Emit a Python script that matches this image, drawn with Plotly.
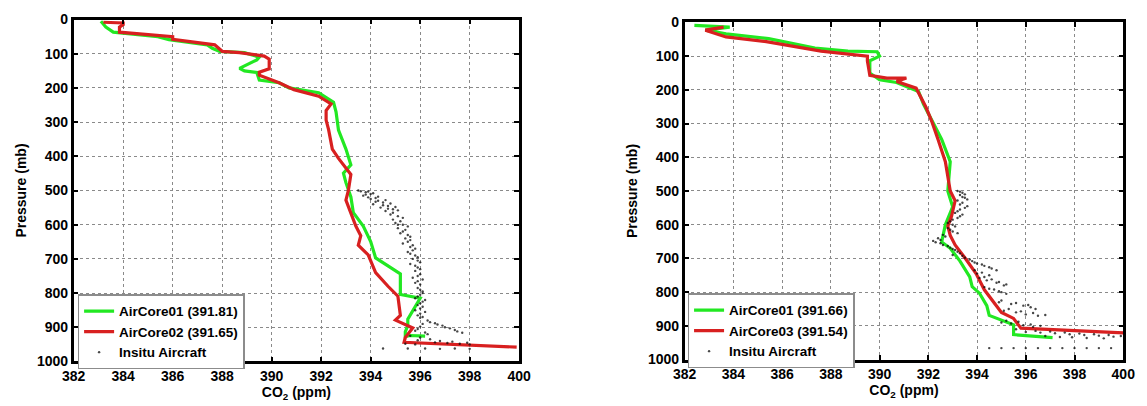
import plotly.graph_objects as go

# ---------------- Left panel data ----------------
L_ac01_co2 = [383.1, 383.3, 383.6, 385.4, 385.85, 387.4, 387.6, 387.9, 388.9, 389.5, 389.4, 388.7, 388.9, 389.4,
              389.5, 390.3, 390.7, 391.9, 392.5, 392.6, 392.7, 393.0, 393.2, 392.9, 393.0, 393.2, 393.3, 393.7,
              394.0, 394.2, 395.2, 395.2, 396.0, 395.8, 395.5, 395.5, 395.4, 395.4, 395.6, 396.2]
L_ac01_p = [5, 22, 37, 50, 59, 74, 84, 93, 97, 110, 118, 143, 150, 155,
            177, 185, 200, 214, 242, 270, 323, 379, 425, 449, 477, 519, 565, 604,
            649, 697, 744, 804, 815, 838, 876, 895, 913, 927, 924, 926]

L_ac02_co2 = [383.2, 384.0, 384.0, 383.85, 383.85, 386.0, 386.0, 387.7, 388.0, 388.7, 389.7, 389.9, 389.9, 389.5,
              389.5, 390.3, 390.9, 391.9, 392.4, 392.2, 392.2, 392.3, 392.45, 392.7, 393.2, 393.1, 393.0, 393.2,
              393.4, 393.6, 393.5, 393.9, 394.2, 394.7, 395.1, 395.2, 395.0, 395.7, 395.4, 395.35, 399.9]
L_ac02_p = [8, 10, 15, 22, 37, 50, 58, 74, 93, 97, 107, 116, 144, 154,
            163, 185, 205, 224, 247, 266, 294, 322, 379, 406, 453, 500, 528, 565,
            604, 632, 660, 688, 740, 780, 809, 865, 879, 902, 930, 944, 958]

L_insitu_co2 = [393.6, 393.8, 394.0, 393.7, 393.9, 394.2, 394.3, 394.5, 394.1, 394.7, 394.4, 394.9, 394.6,
                394.8, 395.1, 394.9, 395.2, 395.0, 395.3, 395.1, 395.4, 395.2, 395.5, 395.4, 395.6,
                395.3, 395.6, 395.7, 395.5, 395.8, 395.7, 395.9, 395.6, 395.9, 395.8, 396.0, 395.7, 395.9, 396.0,
                395.9, 396.1, 396.0, 395.8, 396.1, 395.9, 396.0, 396.2, 395.9,
                396.0, 396.3, 396.6, 396.9, 397.2, 397.5, 396.1, 395.9, 396.2,
                395.6, 396.0, 396.4, 396.8, 397.3, 397.9, 395.4, 395.8,
                396.2, 396.8, 397.4, 398.0, 394.5, 395.5,
                393.5, 393.9, 394.1, 393.8, 394.3, 394.0, 394.6, 394.2, 394.8, 394.5, 395.0, 394.7, 395.1,
                394.9, 395.3, 395.1, 395.5, 395.3, 395.6, 395.5, 395.7, 395.8, 395.6, 395.9, 396.0, 395.8,
                396.0, 395.9, 396.1, 395.8, 396.0, 396.1, 395.9, 396.2, 396.0, 396.1, 395.8, 396.0, 396.1,
                396.4, 396.7, 397.0, 397.4, 397.7, 396.0, 395.8, 396.3, 395.9, 396.6, 397.1, 397.6, 398.0]
L_insitu_p = [502, 505, 510, 515, 520, 522, 530, 535, 540, 545, 550, 555, 560,
              570, 575, 585, 590, 595, 600, 610, 615, 625, 630, 640, 645,
              655, 665, 675, 680, 690, 700, 705, 715, 725, 735, 745, 755, 765, 775,
              785, 795, 805, 815, 825, 835, 845, 855, 865,
              872, 880, 888, 895, 903, 912, 890, 905, 915,
              925, 930, 935, 940, 942, 945, 948, 950,
              962, 963, 962, 963, 962, 962,
              500, 503, 508, 512, 518, 525, 528, 533, 538, 543, 548, 553, 558,
              565, 580, 600, 605, 620, 635, 650, 660, 670, 685, 695, 710, 720,
              730, 750, 760, 770, 790, 800, 810, 820, 830, 840, 850, 860, 870,
              885, 892, 900, 908, 916, 898, 910, 920, 938, 944, 946, 948, 950]

# ---------------- Right panel data ----------------
R_ac01_co2 = [382.4, 383.85, 382.85, 383.7, 385.45, 387.35, 388.7, 389.9, 390.0, 389.6, 389.6, 390.0, 390.7,
              391.6, 391.8, 392.2, 392.55, 392.9, 392.8, 393.0, 392.7, 392.55, 392.9, 393.3, 393.7, 393.8,
              394.1, 394.4, 394.5, 395.5, 395.5, 397.1]
R_ac01_p = [9, 14, 23, 34, 48, 76, 85, 87, 100, 114, 150, 170, 178,
            205, 242, 299, 347, 413, 500, 547, 600, 651, 670, 708, 755, 784,
            803, 840, 869, 897, 926, 935]

R_ac03_co2 = [383.6, 382.85, 383.7, 385.35, 387.6, 389.5, 389.5, 389.6, 390.3, 391.1, 390.7, 391.5, 391.9,
              392.15, 392.4, 392.7, 392.9, 393.1, 392.95, 392.8, 392.9, 393.1, 393.5, 393.96, 394.3, 394.7,
              395.0, 395.5, 395.8, 400.0]
R_ac03_p = [14, 23, 43, 57, 85, 100, 114, 157, 165, 165, 175, 195, 251,
            295, 347, 413, 500, 529, 576, 604, 632, 660, 698, 745, 793, 831,
            860, 878, 907, 921]

R_insitu_co2 = [393.2, 393.4, 393.3, 393.5, 393.2, 393.4, 393.6, 393.3, 393.1, 393.3,
                393.0, 392.8, 393.1, 392.9, 393.2, 392.7, 392.5,
                392.3, 392.6, 392.9, 393.1, 393.3, 393.0, 393.5,
                393.8, 394.0, 394.3, 394.6, 393.9, 394.2, 394.5,
                394.1, 394.4, 394.8, 395.1, 394.3, 394.7, 395.0,
                394.9, 395.4, 395.9, 396.2, 395.1, 395.6, 396.0, 396.5,
                395.0, 395.4, 395.9, 396.3, 395.6,
                396.0, 396.6, 397.2, 397.8, 398.4, 399.0, 399.6, 396.8, 397.9,
                394.5, 395.0, 395.5, 396.0, 396.5, 397.0, 397.5, 398.0, 398.5, 399.0, 399.5,
                393.3, 393.5, 393.4, 393.6, 393.3, 393.5, 393.2, 393.4, 393.2, 392.9, 393.0, 392.8,
                393.0, 392.6, 392.4, 392.2, 392.5, 392.8, 393.0, 393.2, 393.4, 393.7, 393.9, 394.2,
                394.5, 394.8, 394.0, 394.3, 394.6, 394.9, 395.2, 394.5, 394.9, 395.2, 395.0, 395.6,
                396.1, 396.4, 395.3, 395.8, 396.3, 396.8, 395.2, 395.7, 396.2, 396.6, 396.4, 397.0,
                397.6, 398.2, 398.8, 399.4, 399.9, 397.4, 398.5, 399.2]
R_insitu_p = [500, 505, 512, 520, 528, 535, 545, 555, 565, 575,
              585, 595, 605, 615, 625, 635, 645,
              652, 660, 668, 675, 685, 690, 698,
              708, 715, 722, 730, 735, 742, 750,
              758, 765, 772, 780, 785, 792, 800,
              830, 835, 840, 845, 855, 860, 866, 870,
              890, 893, 898, 903, 910,
              918, 920, 922, 925, 927, 929, 932, 930, 934,
              966, 966, 966, 966, 966, 966, 966, 966, 966, 966, 966,
              502, 510, 518, 525, 540, 550, 560, 570, 580, 590, 600, 610,
              620, 630, 640, 648, 655, 663, 672, 680, 692, 703, 712, 718,
              726, 735, 745, 755, 762, 770, 777, 790, 797, 805, 825, 832,
              838, 850, 850, 857, 862, 868, 885, 888, 896, 900, 915, 917,
              920, 923, 925, 927, 930, 933, 936, 937]

x_ticks = [382, 384, 386, 388, 390, 392, 394, 396, 398, 400]
y_ticks = [0, 100, 200, 300, 400, 500, 600, 700, 800, 900, 1000]

GREEN = "#22e822"
RED = "#d82020"
FONT = "Liberation Sans, Arial, sans-serif"

fig = go.Figure()

def lines(x, y, color, name, xa, ya, leg):
    fig.add_trace(go.Scatter(x=x, y=y, mode="lines", name=name,
                             line=dict(color=color, width=3.2),
                             xaxis=xa, yaxis=ya, legend=leg))

def dots(x, y, xa, ya, leg):
    fig.add_trace(go.Scatter(x=x, y=y, mode="markers", name="Insitu Aircraft",
                             marker=dict(color="rgba(10,10,10,0.75)", size=2.4),
                             xaxis=xa, yaxis=ya, legend=leg))

lines(L_ac01_co2, L_ac01_p, GREEN, "AirCore01 (391.81)", "x", "y", "legend")
lines(L_ac02_co2, L_ac02_p, RED, "AirCore02 (391.65)", "x", "y", "legend")
dots(L_insitu_co2, L_insitu_p, "x", "y", "legend")

lines(R_ac01_co2, R_ac01_p, GREEN, "AirCore01 (391.66)", "x2", "y2", "legend2")
lines(R_ac03_co2, R_ac03_p, RED, "AirCore03 (391.54)", "x2", "y2", "legend2")
dots(R_insitu_co2, R_insitu_p, "x2", "y2", "legend2")

W, H = 1147, 406
tickfont = dict(family=FONT, size=14, color="black", weight="bold")
titlefont = dict(family=FONT, size=14, color="black", weight="bold")

def xax(dom, anchor):
    return dict(domain=dom, anchor=anchor, range=[382, 400], tickvals=x_ticks,
                showline=True, linecolor="black", linewidth=2.5, mirror="ticks",
                ticks="inside", ticklen=5, tickwidth=2, tickcolor="black",
                showgrid=True, gridcolor="#8a8a8a", gridwidth=1, griddash="dot",
                zeroline=False, tickfont=tickfont,
                title=dict(text="CO<sub>2</sub> (ppm)", font=titlefont, standoff=5))

def yax(dom, anchor):
    return dict(domain=dom, anchor=anchor, range=[1000, 0], tickvals=y_ticks,
                showline=True, linecolor="black", linewidth=2.5, mirror="ticks",
                ticks="inside", ticklen=5, tickwidth=2, tickcolor="black",
                showgrid=True, gridcolor="#8a8a8a", gridwidth=1, griddash="dot",
                zeroline=False, tickfont=tickfont,
                title=dict(text="Pressure (mb)", font=titlefont, standoff=8))

legend_style = dict(bgcolor="white", bordercolor="#8c8c8c", borderwidth=1.5,
                    font=dict(family=FONT, size=13.5, color="black", weight="bold"),
                    xanchor="left", yanchor="top", tracegroupgap=0, itemwidth=30)

fig.update_layout(
    width=W, height=H, margin=dict(l=0, r=0, t=0, b=0),
    paper_bgcolor="white", plot_bgcolor="white",
    font=dict(family=FONT, color="black"),
    xaxis=xax([63 / W, 518 / W], "y"),
    yaxis=yax([1 - 368 / H, 1 - 12 / H], "x"),
    xaxis2=xax([687 / W, 1135 / W], "y2"),
    yaxis2=yax([1 - 366 / H, 1 - 15 / H], "x2"),
    legend=dict(x=67 / W, y=1 - 298 / H, **legend_style),
    legend2=dict(x=690 / W, y=1 - 297 / H, **legend_style),
    showlegend=True,
)

fig.write_html("out.html", config={"displayModeBar": False},
               post_script="document.body.style.margin='0';")
